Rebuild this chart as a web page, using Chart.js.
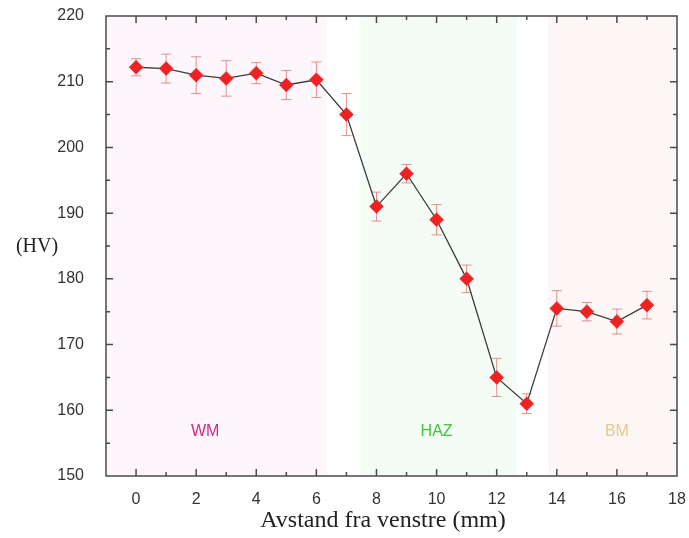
<!DOCTYPE html>
<html>
<head>
<meta charset="utf-8">
<script src="https://cdn.jsdelivr.net/npm/chart.js@4/dist/chart.umd.min.js"></script>
<style>
  html, body { margin: 0; padding: 0; background: #fff; }
  #wrap { width: 689px; height: 538px; }
</style>
</head>
<body>
<div id="wrap"><canvas id="chart" width="689" height="538"></canvas></div>
<script>
const positions = [0, 1, 2, 3, 4, 5, 6, 7, 8, 9, 10, 11, 12, 13, 14, 15, 16, 17];
const hardness = [212.2, 212, 211, 210.5, 211.3, 209.5, 210.3, 205, 191, 196, 189, 180, 165, 161, 175.5, 175, 173.5, 176];
const errors = [1.3, 2.2, 2.8, 2.7, 1.6, 2.2, 2.7, 3.2, 2.2, 1.4, 2.3, 2.1, 2.9, 1.5, 2.7, 1.4, 1.9, 2.1];

const zoneNames = ["WM", "HAZ", "BM"];
const zoneStart = [-1, 7.47, 13.7];
const zoneEnd = [6.35, 12.7, 18];
const zoneLabelX = [2.3, 10, 16];
const zoneLabelY = 156.7;
const zoneFill = ["#fdf7fb", "#f5fcf6", "#fcf7f6"];
const zoneText = ["#cc2a8a", "#3ec43e", "#e2c98c"];

const xTicks = [0, 2, 4, 6, 8, 10, 12, 14, 16, 18];
const yTicks = [150, 160, 170, 180, 190, 200, 210, 220];

const zonesPlugin = {
  id: "zones",
  beforeDatasetsDraw(chart) {
    const { ctx, chartArea, scales } = chart;
    const x = scales.x, y = scales.y;
    ctx.save();
    zoneNames.forEach((name, i) => {
      const x0 = Math.max(x.getPixelForValue(zoneStart[i]), chartArea.left);
      const x1 = Math.min(x.getPixelForValue(zoneEnd[i]), chartArea.right);
      ctx.fillStyle = zoneFill[i];
      ctx.fillRect(x0, chartArea.top, x1 - x0, chartArea.bottom - chartArea.top);
    });
    ctx.font = "16px 'Liberation Sans', Arial, sans-serif";
    ctx.textAlign = "center";
    ctx.textBaseline = "middle";
    zoneNames.forEach((name, i) => {
      ctx.fillStyle = zoneText[i];
      ctx.fillText(name, x.getPixelForValue(zoneLabelX[i]), y.getPixelForValue(zoneLabelY));
    });

    // error bars
    ctx.strokeStyle = "rgba(220,110,110,0.75)";
    ctx.lineWidth = 1;
    positions.forEach((p, i) => {
      const px = x.getPixelForValue(p);
      const top = y.getPixelForValue(hardness[i] + errors[i]);
      const bot = y.getPixelForValue(hardness[i] - errors[i]);
      ctx.beginPath();
      ctx.moveTo(px, top); ctx.lineTo(px, bot);
      ctx.moveTo(px - 5, top); ctx.lineTo(px + 5, top);
      ctx.moveTo(px - 5, bot); ctx.lineTo(px + 5, bot);
      ctx.stroke();
    });
    ctx.restore();
  },
  afterDraw(chart) {
    const { ctx, chartArea, scales } = chart;
    const x = scales.x, y = scales.y;
    const { left, right, top, bottom } = chartArea;
    ctx.save();
    ctx.strokeStyle = "#4a4a4a";
    ctx.lineWidth = 1.5;
    ctx.strokeRect(left, top, right - left, bottom - top);
    ctx.beginPath();
    for (let v = 0; v <= 17; v++) {
      const px = x.getPixelForValue(v);
      const len = v % 2 === 0 ? 7 : 4;
      ctx.moveTo(px, bottom); ctx.lineTo(px, bottom - len);
      ctx.moveTo(px, top); ctx.lineTo(px, top + len);
    }
    for (let v = 155; v < 220; v += 5) {
      const py = y.getPixelForValue(v);
      const len = v % 10 === 0 ? 7 : 4;
      ctx.moveTo(left, py); ctx.lineTo(left + len, py);
      ctx.moveTo(right, py); ctx.lineTo(right - len, py);
    }
    ctx.stroke();

    ctx.fillStyle = "#222";
    ctx.font = "24px 'Liberation Serif', 'Times New Roman', serif";
    ctx.textAlign = "center";
    ctx.textBaseline = "middle";
    ctx.fillText("Avstand fra venstre (mm)", 383, 521);
    ctx.font = "20px 'Liberation Serif', 'Times New Roman', serif";
    ctx.fillText("(HV)", 37, 247);
    ctx.restore();
  }
};

new Chart(document.getElementById("chart").getContext("2d"), {
  type: "scatter",
  data: {
    datasets: [{
      data: positions.map((p, i) => ({ x: p, y: hardness[i] })),
      showLine: true,
      borderColor: "#3c3c3c",
      borderWidth: 1.3,
      pointStyle: "rectRot",
      pointRadius: 7,
      pointBackgroundColor: "#ee2222",
      pointBorderColor: "#ee2222",
      pointBorderWidth: 0.5,
      tension: 0
    }]
  },
  options: {
    responsive: false,
    animation: false,
    layout: { padding: { top: 16, right: 12, left: 0, bottom: 0 } },
    plugins: { legend: { display: false }, tooltip: { enabled: false } },
    scales: {
      x: {
        type: "linear",
        min: -1,
        max: 18,
        afterBuildTicks: (s) => { s.ticks = xTicks.map(v => ({ value: v })); },
        afterFit: (s) => { s.height = 62; s.paddingLeft = 0; s.paddingRight = 0; },
        grid: { display: false },
        border: { display: false },
        ticks: { color: "#333", padding: 6, maxRotation: 0,
          font: { family: "'Liberation Sans', Arial, sans-serif", size: 16 } }
      },
      y: {
        min: 150,
        max: 220,
        afterBuildTicks: (s) => { s.ticks = yTicks.map(v => ({ value: v })); },
        afterFit: (s) => { s.width = 106; s.paddingTop = 0; s.paddingBottom = 0; },
        grid: { display: false },
        border: { display: false },
        ticks: { color: "#333", padding: 14,
          font: { family: "'Liberation Sans', Arial, sans-serif", size: 16 } }
      }
    }
  },
  plugins: [zonesPlugin]
});
</script>
</body>
</html>
